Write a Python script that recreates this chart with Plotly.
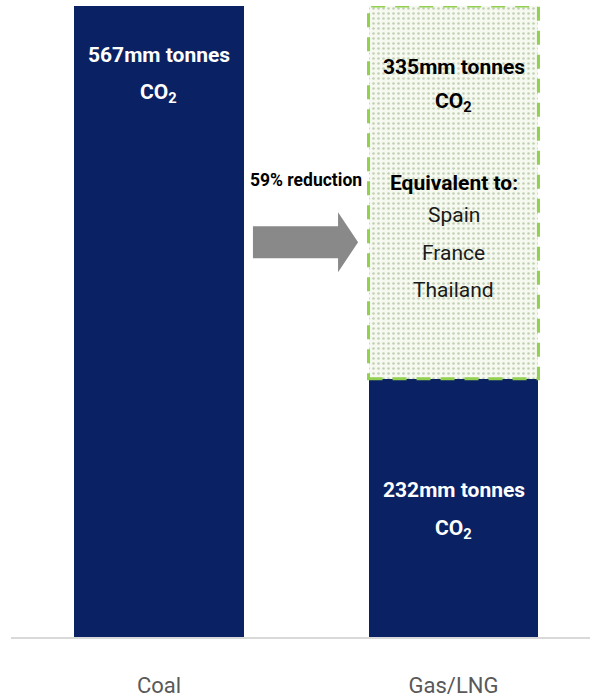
import plotly.graph_objects as go

# --- data -------------------------------------------------------------
categories = ["Coal", "Gas/LNG"]
emitted_mt = [567, 232]          # CO2 actually emitted (mm tonnes)
avoided_mt = [None, 335]         # CO2 avoided by switching to gas
equivalent_countries = ["Spain", "France", "Thailand"]

# --- style ------------------------------------------------------------
NAVY = "#0a2264"
GREEN = "#92d050"
ARROW_GREY = "#898989"
FONT = "Roboto, sans-serif"
BAR_W = 0.577

coal_total = emitted_mt[0]
gas_emitted = emitted_mt[1]
gas_avoided = avoided_mt[1]
reduction_pct = round(gas_avoided / coal_total * 100)

fig = go.Figure()

fig.add_trace(go.Bar(
    x=[0, 1], y=emitted_mt, width=BAR_W,
    marker=dict(color=NAVY, line=dict(width=0)),
    hoverinfo="skip", showlegend=False,
))
fig.add_trace(go.Bar(
    x=[0, 1], y=avoided_mt, width=BAR_W,
    marker=dict(
        color="#f4f8ee",
        line=dict(width=0),
        pattern=dict(shape=".", size=5, solidity=0.2,
                     fgcolor="#c3cfb5", bgcolor="#f5f9ef", fillmode="replace"),
    ),
    hoverinfo="skip", showlegend=False,
))

# dashed outline around the avoided-emissions block
fig.add_shape(
    type="rect", xref="x", yref="y",
    x0=1 - BAR_W / 2, x1=1 + BAR_W / 2,
    y0=gas_emitted, y1=gas_emitted + gas_avoided,
    line=dict(color=GREEN, width=3, dash="14px,10px"),
    fillcolor="rgba(0,0,0,0)", layer="above",
)

# block arrow in the gap between the two bars
ax0, ax_head, ax_tip = 0.319, 0.608, 0.676
ay_mid = 354.7
body_half, head_half = 14.3, 26.9
arrow_path = (
    f"M {ax0},{ay_mid + body_half} L {ax_head},{ay_mid + body_half} "
    f"L {ax_head},{ay_mid + head_half} L {ax_tip},{ay_mid} "
    f"L {ax_head},{ay_mid - head_half} L {ax_head},{ay_mid - body_half} "
    f"L {ax0},{ay_mid - body_half} Z"
)
fig.add_shape(type="path", xref="x", yref="y", path=arrow_path,
              fillcolor=ARROW_GREY, line=dict(width=0), layer="above")


def label(x, y, text, yshift, color, size=21, bold=True):
    fig.add_annotation(
        x=x, y=y, xref="x", yref="y", text=f"<b>{text}</b>" if bold else text,
        showarrow=False, yshift=yshift, xanchor="center", yanchor="middle",
        font=dict(family=FONT, size=size, color=color),
    )


# coal bar
label(0, coal_total, f"{coal_total}mm tonnes", -49, "white")
label(0, coal_total, "CO<sub>2</sub>", -87, "white")

# avoided block
top = gas_emitted + gas_avoided
label(1, top, f"{gas_avoided}mm tonnes", -61, "black")
label(1, top, "CO<sub>2</sub>", -96, "black")
label(1, top, "Equivalent to:", -177, "black")
for i, country in enumerate(equivalent_countries):
    label(1, top, country, -209 - 37.5 * i, "#1a1a1a", size=21, bold=False)

# emitted part of gas bar
label(1, gas_emitted, f"{gas_emitted}mm tonnes", -111, "white")
label(1, gas_emitted, "CO<sub>2</sub>", -151, "white")

# reduction text above arrow
fig.add_annotation(
    x=(ax0 + ax_tip) / 2, y=ay_mid, xref="x", yref="y", yshift=62,
    text=f"<b>{reduction_pct}% reduction</b>", showarrow=False,
    font=dict(family=FONT, size=17.5, color="black"),
)

fig.update_layout(
    width=590, height=698,
    margin=dict(l=11, r=0, t=6, b=59),
    barmode="stack", bargap=0,
    paper_bgcolor="white", plot_bgcolor="white",
    xaxis=dict(
        range=[-0.5025, 1.4635], tickvals=[0, 1], ticktext=categories,
        showgrid=False, zeroline=False,
        showline=True, linecolor="#d9d9d9", linewidth=2,
        ticks="outside", ticklen=28, tickcolor="rgba(0,0,0,0)",
        tickfont=dict(family=FONT, size=22, color="#595959"),
        fixedrange=True,
    ),
    yaxis=dict(range=[0, coal_total], visible=False, fixedrange=True),
)

fig.write_html("out.html", config={"displayModeBar": False})
